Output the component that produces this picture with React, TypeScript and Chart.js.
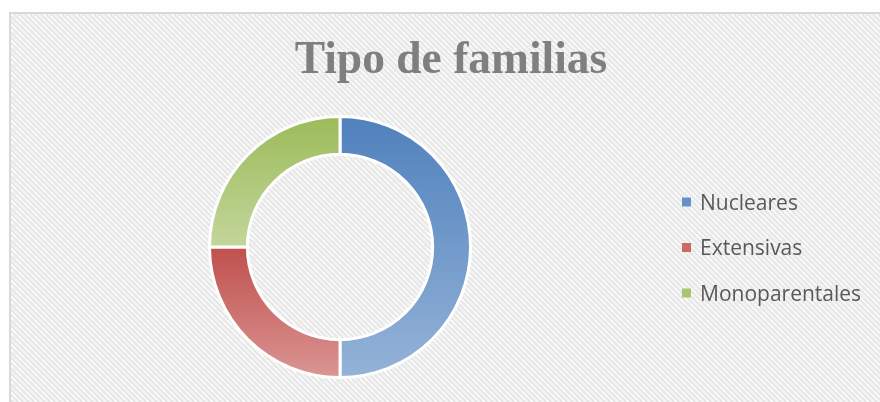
import React, { useEffect, useRef } from "react";
import { Chart, registerables } from "chart.js";

Chart.register(...registerables);

const categories = ["Nucleares", "Extensivas", "Monoparentales"];
const values = [50, 25, 25];
const topColors = ["#4F81BD", "#C0504D", "#9BBB59"];
const bottomColors = ["#95B3D7", "#DA9694", "#C3D69B"];
const legendColors = ["#6790C8", "#CB6966", "#AAC56F"];
const titleText = "Tipo de familias";

function makePattern(ctx: CanvasRenderingContext2D) {
  const c = document.createElement("canvas");
  c.width = 16;
  c.height = 16;
  const p = c.getContext("2d")!;
  p.fillStyle = "#f4f4f4";
  p.fillRect(0, 0, 16, 16);
  p.fillStyle = "rgba(255,255,255,0.5)";
  p.fillRect(0, 0, 8, 8);
  p.fillRect(8, 8, 8, 8);
  p.strokeStyle = "#e4e4e4";
  p.lineWidth = 1.6;
  for (let k = -6; k <= 6; k++) {
    const c0 = (k * 16) / 3;
    p.beginPath();
    p.moveTo(c0 - 4, -4);
    p.lineTo(c0 + 20, 20);
    p.stroke();
  }
  return ctx.createPattern(c, "repeat");
}

const bgPlugin = {
  id: "bgPlugin",
  beforeDraw(chart: any) {
    const ctx = chart.ctx as CanvasRenderingContext2D;
    ctx.save();
    ctx.fillStyle = "#ffffff";
    ctx.fillRect(0, 0, chart.width, chart.height);
    const pat = makePattern(ctx);
    if (pat) ctx.fillStyle = pat;
    ctx.fillRect(10, 13, chart.width - 10, chart.height - 13);
    ctx.strokeStyle = "#d9d9d9";
    ctx.lineWidth = 2;
    ctx.strokeRect(10, 13, chart.width + 10, chart.height + 10);
    ctx.restore();
  },
};

const textPlugin = {
  id: "textPlugin",
  afterDraw(chart: any) {
    const ctx = chart.ctx as CanvasRenderingContext2D;
    const area = chart.chartArea;
    const cy = (area.top + area.bottom) / 2;
    ctx.save();
    // title
    ctx.font = "bold 45.5px 'Liberation Serif', 'DejaVu Serif', serif";
    ctx.fillStyle = "#7f7f7f";
    ctx.textAlign = "center";
    ctx.textBaseline = "alphabetic";
    ctx.fillText(titleText, 451, 73);
    // legend
    const boxX = area.right + 25;
    const step = 45.5;
    ctx.font = "21px 'Open Sans', 'Noto Sans', sans-serif";
    ctx.textAlign = "left";
    categories.forEach((t, i) => {
      const y = cy + 0.5 + (i - (categories.length - 1) / 2) * step;
      ctx.fillStyle = legendColors[i];
      ctx.fillRect(boxX, y - 4.5, 9, 9);
      ctx.fillStyle = "#595959";
      ctx.fillText(t, boxX + 18, y + 7.5);
    });
    ctx.restore();
  },
};

function sliceYRange(i: number, cy: number, rOut: number, rIn: number) {
  const total = values.reduce((a, b) => a + b, 0);
  let start = -Math.PI / 2;
  for (let k = 0; k < i; k++) start += (values[k] / total) * Math.PI * 2;
  const end = start + (values[i] / total) * Math.PI * 2;
  let minY = Infinity;
  let maxY = -Infinity;
  for (let s = 0; s <= 60; s++) {
    const a = start + ((end - start) * s) / 60;
    for (const r of [rOut, rIn]) {
      const y = cy + r * Math.sin(a);
      minY = Math.min(minY, y);
      maxY = Math.max(maxY, y);
    }
  }
  return [minY, maxY];
}

export default function App() {
  const ref = useRef<HTMLCanvasElement>(null);
  useEffect(() => {
    const canvas = ref.current!;
    const chart = new Chart(canvas, {
      type: "doughnut",
      data: {
        labels: categories,
        datasets: [
          {
            data: values,
            backgroundColor: (ctx: any) => {
              const i = ctx.dataIndex;
              const chart = ctx.chart;
              const area = chart.chartArea;
              if (!area || i === undefined) return topColors[i ?? 0];
              const cy = (area.top + area.bottom) / 2;
              const rOut = Math.min(area.right - area.left, area.bottom - area.top) / 2;
              const rIn = rOut * 0.71;
              const [y0, y1] = sliceYRange(i, cy, rOut, rIn);
              const g = chart.ctx.createLinearGradient(0, y0, 0, y1);
              g.addColorStop(0, topColors[i]);
              g.addColorStop(1, bottomColors[i]);
              return g;
            },
            borderColor: "#ffffff",
            borderWidth: 3,
          },
        ],
      },
      options: {
        animation: false,
        responsive: false,
        maintainAspectRatio: false,
        cutout: "71%",
        layout: { padding: { left: 23, right: 223, top: 115, bottom: 23 } },
        plugins: {
          title: { display: false },
          legend: { display: false },
          tooltip: { enabled: false },
        },
      },
      plugins: [bgPlugin, textPlugin],
    });
    return () => chart.destroy();
  }, []);
  return (
    <div style={{ position: "fixed", left: 0, top: 0, width: 880, height: 402 }}>
      <canvas ref={ref} width={880} height={402} style={{ width: 880, height: 402, display: "block" }} />
    </div>
  );
}
